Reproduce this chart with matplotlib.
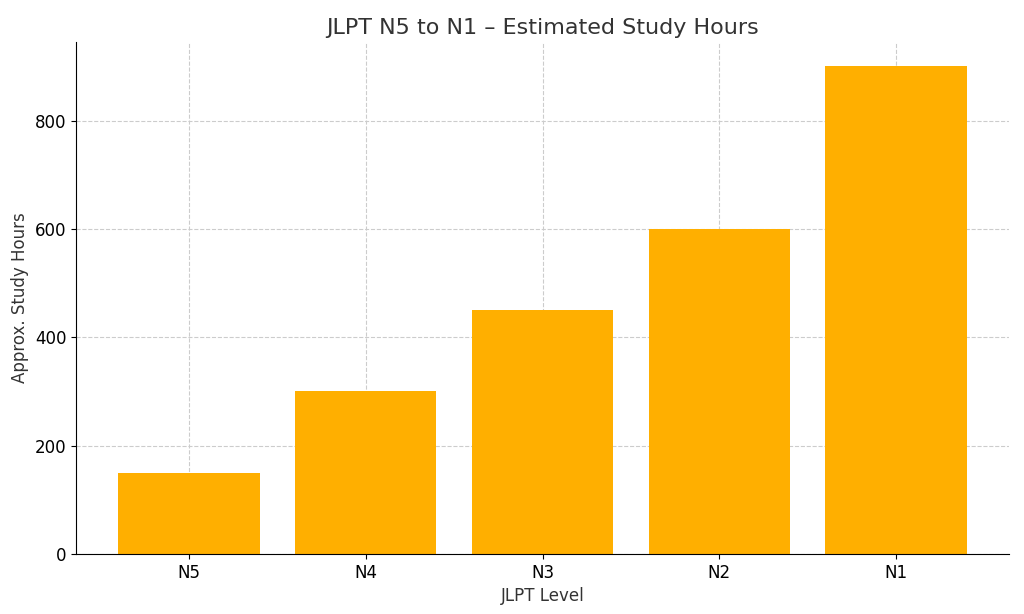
import matplotlib
matplotlib.use("Agg")
import matplotlib.pyplot as plt

levels = ["N5", "N4", "N3", "N2", "N1"]
hours = [150, 300, 450, 600, 900]

fig = plt.figure(figsize=(10.24, 6.14), dpi=100)
ax = fig.add_axes([76/1024, 1-554/614, (1009-76)/1024, (554-42)/614])
ax.bar(levels, hours, color="#FFAF00", width=0.8, zorder=2)
ax.grid(True, linestyle="--", color="#cccccc", linewidth=0.8, zorder=0)
ax.spines["top"].set_visible(False)
ax.spines["right"].set_visible(False)
ax.set_title("JLPT N5 to N1 – Estimated Study Hours", fontsize=16, color="#333333")
ax.set_xlabel("JLPT Level", fontsize=12, color="#333333")
ax.set_ylabel("Approx. Study Hours", fontsize=12, color="#333333")
ax.tick_params(labelsize=12)
ax.set_yticks([0, 200, 400, 600, 800])
fig.savefig("out.png", dpi=100)
